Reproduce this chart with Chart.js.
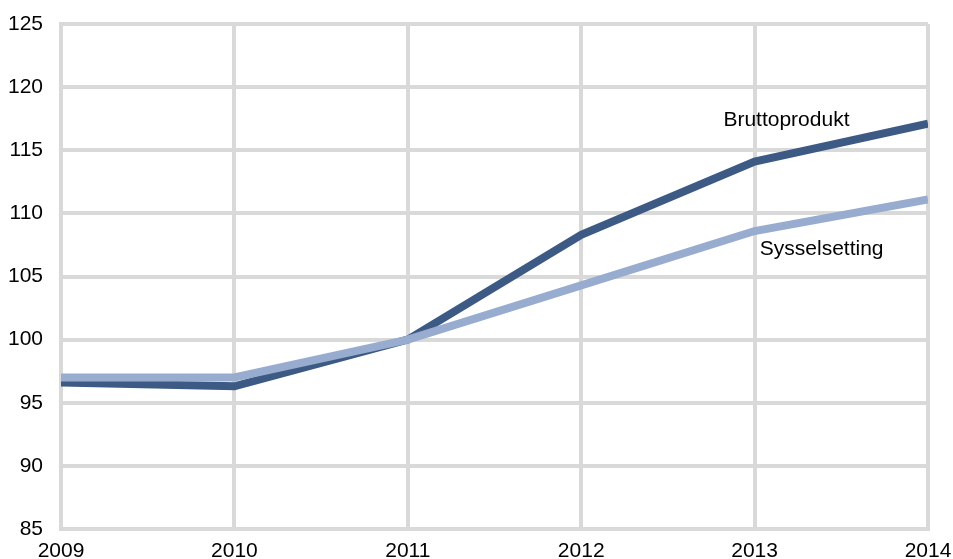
<!DOCTYPE html>
<html>
<head>
<meta charset="utf-8">
<script src="https://cdn.jsdelivr.net/npm/chart.js@4"></script>
<style>
  html, body { margin: 0; padding: 0; background: #fff; overflow: hidden; }
  #wrap { width: 953px; height: 559px; }
</style>
</head>
<body>
<div id="wrap"><canvas id="chart"></canvas></div>
<script>
// Data
const years = [2009, 2010, 2011, 2012, 2013, 2014];
const bruttoprodukt = [96.6, 96.3, 100, 108.3, 114.1, 117.1];
const sysselsetting = [97.0, 97.0, 100, 104.3, 108.6, 111.1];
const yTicks = [85, 90, 95, 100, 105, 110, 115, 120, 125];

// Series labels placed in data space
const seriesLabels = [
  { text: 'Bruttoprodukt', x: 2012.82, y: 117.4 },
  { text: 'Sysselsetting', x: 2013.03, y: 107.2 }
];

const FONT = '"Liberation Sans", Arial, sans-serif';
const gridColor = '#d9d9d9';

const labelPlugin = {
  id: 'seriesLabels',
  afterDatasetsDraw(chart) {
    const ctx = chart.ctx;
    const xs = chart.scales.x, ys = chart.scales.y;
    ctx.save();
    ctx.font = '21px ' + FONT;
    ctx.fillStyle = '#000';
    ctx.textAlign = 'left';
    ctx.textBaseline = 'middle';
    seriesLabels.forEach(l => {
      ctx.fillText(l.text, xs.getPixelForValue(l.x), ys.getPixelForValue(l.y));
    });
    ctx.restore();
  }
};

new Chart(document.getElementById('chart'), {
  type: 'line',
  data: {
    datasets: [
      {
        label: 'Sysselsetting',
        data: years.map((y, i) => ({ x: y, y: sysselsetting[i] })),
        borderColor: '#98acd0',
        borderWidth: 8,
        pointRadius: 0,
        tension: 0
      },
      {
        label: 'Bruttoprodukt',
        data: years.map((y, i) => ({ x: y, y: bruttoprodukt[i] })),
        borderColor: '#3d5a85',
        borderWidth: 8,
        pointRadius: 0,
        tension: 0
      }
    ]
  },
  options: {
    responsive: true,
    maintainAspectRatio: false,
    animation: false,
    layout: { padding: { top: 24, right: 25, left: 0, bottom: 0 } },
    plugins: {
      legend: { display: false },
      tooltip: { enabled: false }
    },
    scales: {
      x: {
        type: 'linear',
        min: 2009,
        max: 2014,
        afterFit(scale) { scale.height = 30; scale.paddingLeft = 0; scale.paddingRight = 0; },
        afterBuildTicks(scale) { scale.ticks = years.map(v => ({ value: v })); },
        grid: { color: gridColor, lineWidth: 4, drawTicks: false },
        border: { color: gridColor, width: 4 },
        ticks: {
          padding: 10,
          color: '#000',
          font: { family: FONT, size: 21 },
          maxRotation: 0,
          callback: v => String(v)
        }
      },
      y: {
        min: 85,
        max: 125,
        afterFit(scale) { scale.width = 61; scale.paddingTop = 0; scale.paddingBottom = 0; },
        afterBuildTicks(scale) { scale.ticks = yTicks.map(v => ({ value: v })); },
        grid: { color: gridColor, lineWidth: 4, drawTicks: false },
        border: { color: gridColor, width: 4 },
        ticks: {
          padding: 18,
          color: '#000',
          font: { family: FONT, size: 21 },
          callback: v => String(v)
        }
      }
    }
  },
  plugins: [labelPlugin]
});
</script>
</body>
</html>
